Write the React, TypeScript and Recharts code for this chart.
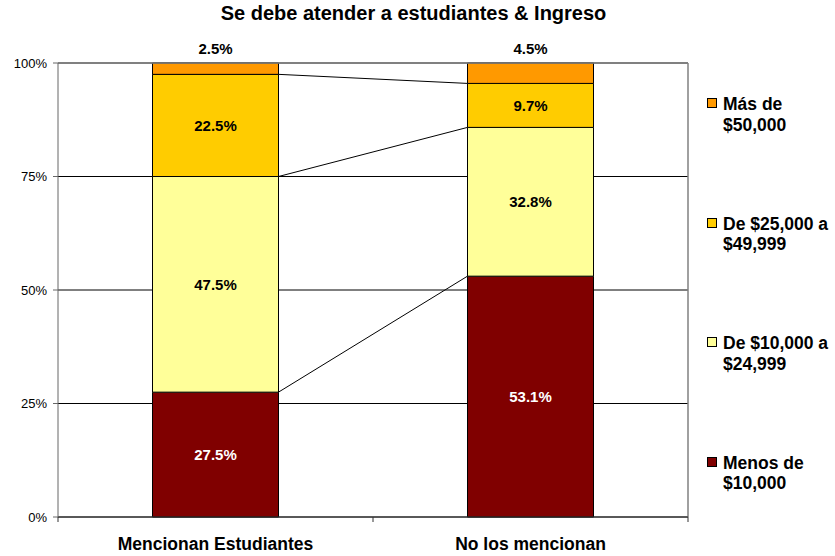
import React from 'react';
import {
  Bar,
  CartesianGrid,
  ComposedChart,
  LabelList,
  Legend,
  Line,
  ReferenceLine,
  XAxis,
  YAxis,
} from 'recharts';

const title = 'Se debe atender a estudiantes & Ingreso';
const categories = ['Mencionan Estudiantes', 'No los mencionan'];
const seriesKeys = ['menos10', 'de10a25', 'de25a50', 'mas50'];
const seriesNames = ['Menos de $10,000', 'De $10,000 a $24,999', 'De $25,000 a $49,999', 'Más de $50,000'];
const seriesColors = ['#800000', '#FFFF99', '#FFCC00', '#FF9900'];
const labelColors = ['#FFFFFF', '#000000', '#000000', '#000000'];
const mencionanValues = [27.5, 47.5, 22.5, 2.5];
const noMencionanValues = [53.1, 32.8, 9.7, 4.5];
const yTicks = [0, 0.25, 0.5, 0.75, 1];
const edgeTicks = [0, 0.5, 1, 1.5, 2];

const BAR_GAP = 0.3; // fraction of a category band left empty on each side

const rows = [mencionanValues, noMencionanValues];

const chartData = categories.map((name, i) => {
  const row: any = { name };
  seriesKeys.forEach((k, j) => {
    row[k] = rows[i][j];
  });
  return row;
});

// top of each segment, normalised the same way stackOffset="expand" does
const cumulative = (vals: number[]) => {
  const total = vals.reduce((a, b) => a + b, 0);
  let acc = 0;
  return vals.map((v) => (acc += v) / total);
};
const cum = rows.map(cumulative);

// series lines run from the right edge of bar 1 to the left edge of bar 2
const connectorData = [1 - BAR_GAP, 1 + BAR_GAP].map((x, i) => {
  const row: any = { x };
  seriesKeys.forEach((k, j) => {
    row[k] = cum[i][j];
  });
  return row;
});

const EdgeTick = (props: any) => {
  const { x, y, payload } = props;
  const v = payload.value;
  if (Number.isInteger(v)) {
    return <line x1={x} y1={y} x2={x} y2={y + 5} stroke="#333" />;
  }
  return (
    <text x={x} y={y + 33} textAnchor="middle" fontSize={17.5} fontWeight="bold" fill="#000">
      {categories[Math.floor(v)]}
    </text>
  );
};

const renderLegend = (props: any) => {
  const items = (props.payload || [])
    .filter((item: any) => seriesNames.includes(item.value))
    .sort((a: any, b: any) => seriesNames.indexOf(b.value) - seriesNames.indexOf(a.value));
  return (
    <div>
      {items.map((item: any, i: number) => {
        const words = String(item.value).split(' ');
        const last = words.pop();
        return (
          <div key={i} style={{ display: 'flex', alignItems: 'flex-start', height: 119.5 }}>
            <div
              style={{
                width: 10,
                height: 10,
                boxSizing: 'border-box',
                background: item.color,
                border: '1px solid #000',
                marginTop: 4,
                marginRight: 6,
                flexShrink: 0,
              }}
            />
            <div style={{ fontWeight: 'bold', fontSize: 17.5, lineHeight: '20.5px', color: '#000' }}>
              <div>{words.join(' ')}</div>
              <div>{last}</div>
            </div>
          </div>
        );
      })}
    </div>
  );
};

export default function App() {
  return (
    <div
      style={{
        position: 'absolute',
        left: 0,
        top: 0,
        width: 835,
        height: 556,
        background: '#fff',
        fontFamily: '"Liberation Sans", Arial, sans-serif',
      }}
    >
      <div
        style={{
          position: 'absolute',
          left: 0,
          top: 1,
          width: 827,
          textAlign: 'center',
          fontWeight: 'bold',
          fontSize: 20,
          lineHeight: '24px',
          color: '#000',
        }}
      >
        {title}
      </div>
      <ComposedChart
        width={835}
        height={556}
        data={chartData}
        stackOffset="expand"
        barCategoryGap={`${BAR_GAP * 100}%`}
        margin={{ top: 63, right: 147, bottom: 0, left: 0 }}
      >
        <CartesianGrid horizontal vertical={false} stroke="#000" />
        <XAxis
          xAxisId="edge"
          dataKey="x"
          type="number"
          domain={[0, 2]}
          ticks={edgeTicks}
          interval={0}
          tick={EdgeTick}
          tickLine={false}
          tickSize={0}
          tickMargin={0}
          height={39}
          stroke="#333"
        />
        <XAxis xAxisId="cat" dataKey="name" hide height={0} />
        <YAxis
          width={58}
          domain={[0, 1]}
          ticks={yTicks}
          tickFormatter={(v: number) => `${Math.round(v * 100)}%`}
          tickSize={5}
          tickMargin={6}
          stroke="#666"
          tick={{ fill: '#000', fontSize: 13 }}
        />
        {seriesKeys.map((k, j) => (
          <Bar
            key={k}
            xAxisId="cat"
            dataKey={k}
            name={seriesNames[j]}
            stackId="a"
            fill={seriesColors[j]}
            stroke="#000"
            strokeWidth={1}
            isAnimationActive={false}
          >
            <LabelList
              dataKey={k}
              position={j === seriesKeys.length - 1 ? 'top' : 'center'}
              offset={9}
              formatter={(v: any) => `${Number(v).toFixed(1)}%`}
              fill={labelColors[j]}
              fontSize={15}
              fontWeight="bold"
            />
          </Bar>
        ))}
        {seriesKeys.slice(0, 3).map((k) => (
          <Line
            key={`c-${k}`}
            xAxisId="edge"
            data={connectorData}
            dataKey={k}
            stroke="#000"
            strokeWidth={1}
            dot={false}
            activeDot={false}
            legendType="none"
            isAnimationActive={false}
          />
        ))}
        <ReferenceLine xAxisId="edge" y={1} stroke="#808080" strokeWidth={1.5} />
        <ReferenceLine xAxisId="edge" x={2} stroke="#808080" strokeWidth={1.5} />
        <Legend
          layout="vertical"
          align="center"
          verticalAlign="middle"
          content={renderLegend}
          wrapperStyle={{ left: 707, top: 94, width: 128 }}
        />
      </ComposedChart>
    </div>
  );
}
